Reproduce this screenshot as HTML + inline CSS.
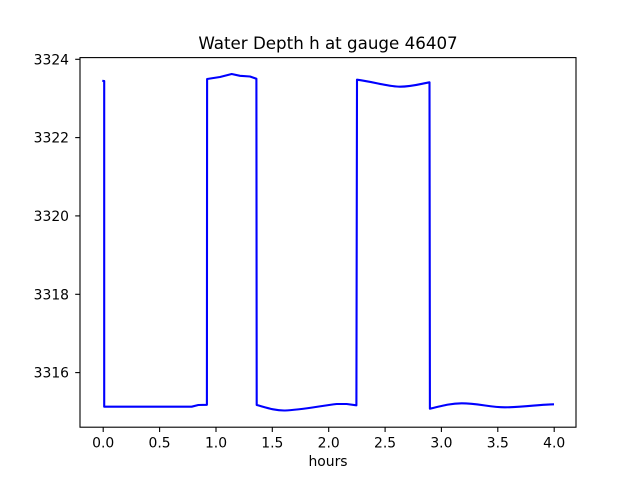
<!DOCTYPE html>
<html><head><meta charset="utf-8"><style>
html,body{margin:0;padding:0;background:#fff;}
svg{display:block;}
text{font-family:"DejaVu Sans","Liberation Sans",sans-serif;fill:#000;}
</style></head><body>
<svg width="640" height="480" viewBox="0 0 640 480" xmlns="http://www.w3.org/2000/svg">
<rect width="640" height="480" fill="#fff"/>
<text x="328" y="49" font-size="16.7" text-anchor="middle">Water Depth h at gauge 46407</text>
<path d="M102.3,80.8 L104.2,81 L104.2,406.7 L191.7,406.7 L198.3,405 L206.9,404.8 L207.1,79 L220,77 L231.7,74 L240,75.8 L250,76.5 L256.4,78.7 L256.7,405 C266,407.5 275,410.7 285,410.5 C300,410 320,406 336.7,404 L346.7,404 L356.4,405.3 L357,79.7 C375,82 388,86.7 400,86.7 C412,86.7 420,84 429.5,82.3 L429.9,408.7 C445,405 452,403.3 461.7,403.3 C478,403.3 490,407.3 505,407.3 C525,407.3 540,404.3 554,404.3" fill="none" stroke="#0000ff" stroke-width="2.1" stroke-linejoin="round"/>
<rect x="80" y="57.6" width="496" height="369.6" fill="none" stroke="#000" stroke-width="1.1"/>
<g stroke="#000" stroke-width="1.1">
<line x1="103.2" y1="427.2" x2="103.2" y2="432"/>
<line x1="159.6" y1="427.2" x2="159.6" y2="432"/>
<line x1="216" y1="427.2" x2="216" y2="432"/>
<line x1="272.3" y1="427.2" x2="272.3" y2="432"/>
<line x1="328.7" y1="427.2" x2="328.7" y2="432"/>
<line x1="385.1" y1="427.2" x2="385.1" y2="432"/>
<line x1="441.4" y1="427.2" x2="441.4" y2="432"/>
<line x1="497.8" y1="427.2" x2="497.8" y2="432"/>
<line x1="554.2" y1="427.2" x2="554.2" y2="432"/>
<line x1="75.2" y1="59.3" x2="80" y2="59.3"/>
<line x1="75.2" y1="137.6" x2="80" y2="137.6"/>
<line x1="75.2" y1="215.9" x2="80" y2="215.9"/>
<line x1="75.2" y1="294.3" x2="80" y2="294.3"/>
<line x1="75.2" y1="372.6" x2="80" y2="372.6"/>
</g>
<g font-size="13.9" text-anchor="middle">
<text x="103.2" y="447.5">0.0</text>
<text x="159.6" y="447.5">0.5</text>
<text x="216" y="447.5">1.0</text>
<text x="272.3" y="447.5">1.5</text>
<text x="328.7" y="447.5">2.0</text>
<text x="385.1" y="447.5">2.5</text>
<text x="441.4" y="447.5">3.0</text>
<text x="497.8" y="447.5">3.5</text>
<text x="554.2" y="447.5">4.0</text>
<text x="328" y="466">hours</text>
</g>
<g font-size="13.9" text-anchor="end">
<text x="69" y="64.3">3324</text>
<text x="69" y="142.6">3322</text>
<text x="69" y="220.9">3320</text>
<text x="69" y="299.3">3318</text>
<text x="69" y="377.6">3316</text>
</g>
</svg>
</body></html>
